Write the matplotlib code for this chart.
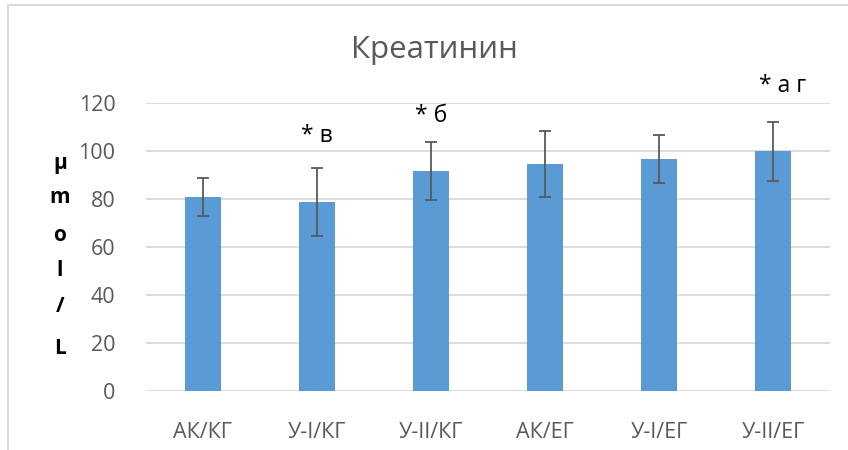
import matplotlib.pyplot as plt
from matplotlib.patches import Rectangle

plt.rcParams["font.family"] = ["Open Sans", "DejaVu Sans"]

groups = ["АК/КГ", "У-I/КГ", "У-II/КГ", "АК/ЕГ", "У-I/ЕГ", "У-II/ЕГ"]
creatinine = [81, 79, 91.7, 94.7, 96.6, 100]
sd = [8, 14.2, 12, 13.7, 10, 12.3]

# significance marks: (bar index, text, x shift, y in data units)
marks = [(1, "* в", 0.0, 104), (2, "* б", 0.0, 112.2), (5, "* а г", 0.08, 124.7)]

grey = "#595959"

fig = plt.figure(figsize=(8.48, 4.5), dpi=100)
ax = fig.add_axes([0.172, 0.131, 0.807, 0.6394])

x = range(len(groups))
ax.bar(x, creatinine, width=0.32, color="#5B9BD5", zorder=3)
ax.errorbar(x, creatinine, yerr=sd, fmt="none", ecolor=grey,
            elinewidth=1.3, capsize=4, capthick=1.3, zorder=4)

ax.set_xlim(-0.5, len(groups) - 0.5)
ax.set_ylim(0, 120)
ax.set_yticks(range(0, 121, 20))
ax.set_xticks(list(x))
ax.set_xticklabels(groups)
ax.yaxis.grid(True, color="#D9D9D9", linewidth=1.3, zorder=0)
for s in ax.spines.values():
    s.set_visible(False)
ax.tick_params(axis="both", length=0, labelsize=15.5, colors=grey)
ax.tick_params(axis="x", pad=22)
ax.tick_params(axis="y", pad=22)

for i, txt, dx, y in marks:
    ax.text(i + dx, y, txt, ha="center", va="baseline", fontsize=16.5,
            color="black", clip_on=False)

fig.text(0.512, 0.888, "Креатинин", ha="center", va="center",
         fontsize=22.5, color=grey)

# stacked unit label
for ch, ypx in zip(["µ", "m", "o", "l", "/", "L"], [163, 197, 235, 270, 307, 348]):
    fig.text(60 / 848, 1 - ypx / 450, ch, ha="center", va="center",
             fontsize=15, fontweight="bold", color="black")

fig.patches.append(Rectangle((8 / 848, -0.1), 1.2, 1 - 5 / 450 + 0.1,
                             transform=fig.transFigure, fill=False,
                             edgecolor="#D9D9D9", linewidth=1.5))

fig.savefig("out.png", dpi=100)
